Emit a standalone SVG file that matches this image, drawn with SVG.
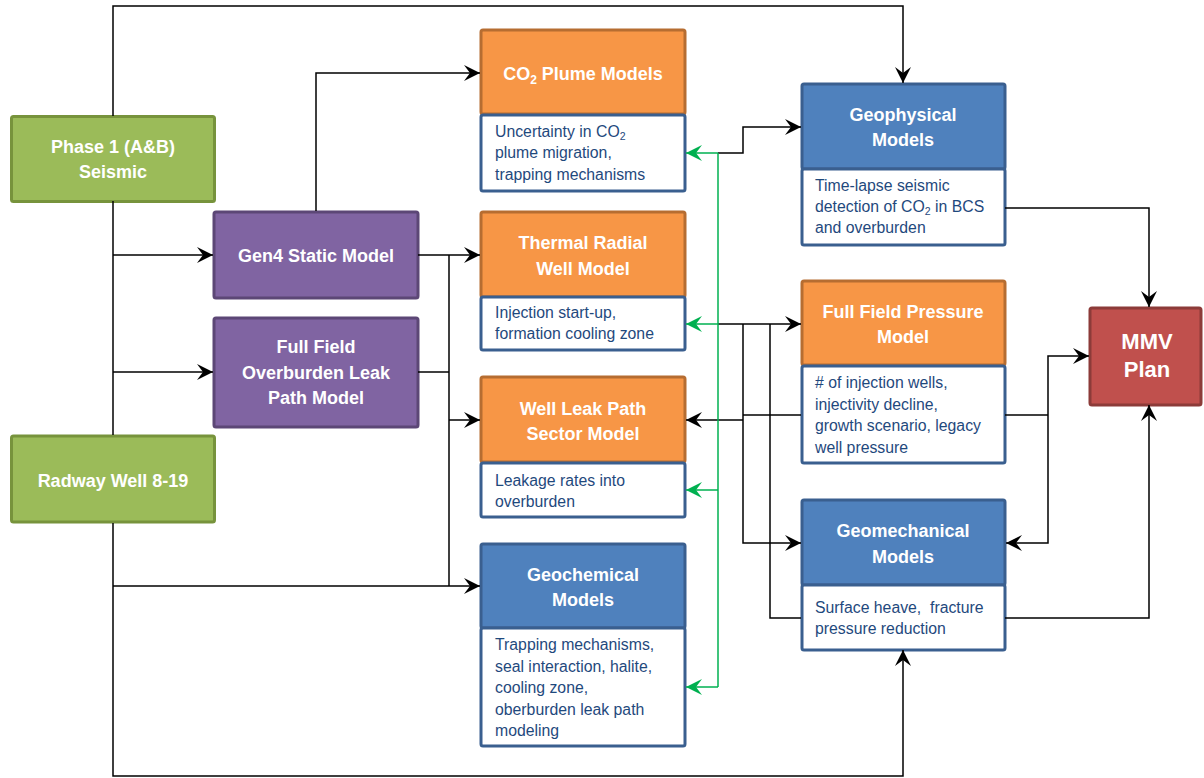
<svg xmlns="http://www.w3.org/2000/svg" width="1204" height="778" viewBox="0 0 1204 778">
<style>
text{font-family:"Liberation Sans",Arial,sans-serif}
.t{font-size:18px;font-weight:bold;fill:#fff;text-anchor:middle}
.b{font-size:15.8px;fill:#1F497D}
.g{fill:#9BBB59;stroke:#77933C;stroke-width:3}
.p{fill:#8064A2;stroke:#5C4776;stroke-width:3}
.o{fill:#F79646;stroke:#B66D31;stroke-width:3}
.bl{fill:#4F81BD;stroke:#3A5F8F;stroke-width:3}
.w{fill:#fff;stroke:#3A5F8F;stroke-width:3}
.r{fill:#C0504D;stroke:#8C3B39;stroke-width:3}
.c{fill:none;stroke:#000;stroke-width:1.5}
.cg{fill:none;stroke:#00B050;stroke-width:1.5}
.a{marker-end:url(#ah)}
.ag{marker-end:url(#ahg)}
</style>
<defs>
<marker id="ah" viewBox="-17 -9 18 18" refX="0" refY="0" markerWidth="18" markerHeight="18" markerUnits="userSpaceOnUse" orient="auto"><path d="M0,0 L-16,-8 L-10,0 L-16,8 Z" fill="#000"/></marker>
<marker id="ahg" viewBox="-17 -9 18 18" refX="0" refY="0" markerWidth="18" markerHeight="18" markerUnits="userSpaceOnUse" orient="auto"><path d="M0,0 L-16,-8 L-10,0 L-16,8 Z" fill="#00B050"/></marker>
</defs>
<rect width="1204" height="778" fill="#fff"/>

<g id="phase1"><rect class="g" x="11.5" y="116.5" width="203" height="85" rx="2"/><text class="t" x="113" y="153">Phase 1 (A&amp;B)</text><text class="t" x="113" y="178">Seismic</text></g>
<g id="radway"><rect class="g" x="11.5" y="436" width="203" height="86" rx="2"/><text class="t" x="113" y="487">Radway Well 8-19</text></g>
<g id="gen4"><rect class="p" x="214" y="212" width="204" height="86" rx="2"/><text class="t" x="316" y="262">Gen4 Static Model</text></g>
<g id="ffoverburden"><rect class="p" x="214" y="318" width="204" height="109" rx="2"/><text class="t" x="316" y="353">Full Field</text><text class="t" x="316" y="379">Overburden Leak</text><text class="t" x="316" y="404">Path Model</text></g>

<g id="co2plume"><rect class="o" x="481" y="30" width="204" height="84" rx="2"/><rect class="w" x="481" y="115" width="204" height="76" rx="2"/>
<text class="t" x="583" y="80">CO<tspan font-size="12" dy="4">2</tspan><tspan dy="-4"> Plume Models</tspan></text>
<text class="b" x="495" y="137">Uncertainty in CO<tspan font-size="10.5" dy="3">2</tspan></text><text class="b" x="495" y="158">plume migration,</text><text class="b" x="495" y="180">trapping mechanisms</text></g>

<g id="thermal"><rect class="o" x="481" y="212" width="204" height="85" rx="2"/><rect class="w" x="481" y="297" width="204" height="53" rx="2"/>
<text class="t" x="583" y="249">Thermal Radial</text><text class="t" x="583" y="275">Well Model</text>
<text class="b" x="495" y="318">Injection start-up,</text><text class="b" x="495" y="339">formation cooling zone</text></g>

<g id="wellleak"><rect class="o" x="481" y="377" width="204" height="85" rx="2"/><rect class="w" x="481" y="463" width="204" height="54" rx="2"/>
<text class="t" x="583" y="415">Well Leak Path</text><text class="t" x="583" y="440">Sector Model</text>
<text class="b" x="495" y="486">Leakage rates into</text><text class="b" x="495" y="507">overburden</text></g>

<g id="geochem"><rect class="bl" x="481" y="544" width="204" height="84" rx="2"/><rect class="w" x="481" y="628" width="204" height="118" rx="2"/>
<text class="t" x="583" y="581">Geochemical</text><text class="t" x="583" y="606">Models</text>
<text class="b" x="495" y="650">Trapping mechanisms,</text><text class="b" x="495" y="672">seal interaction, halite,</text><text class="b" x="495" y="693">cooling zone,</text><text class="b" x="495" y="715">oberburden leak path</text><text class="b" x="495" y="736">modeling</text></g>

<g id="geophys"><rect class="bl" x="802" y="84" width="203" height="85" rx="2"/><rect class="w" x="802" y="169" width="203" height="76" rx="2"/>
<text class="t" x="903" y="121">Geophysical</text><text class="t" x="903" y="146">Models</text>
<text class="b" x="815" y="191">Time-lapse seismic</text><text class="b" x="815" y="212">detection of CO<tspan font-size="10.5" dy="3">2</tspan><tspan dy="-3"> in BCS</tspan></text><text class="b" x="815" y="233">and overburden</text></g>

<g id="ffpressure"><rect class="o" x="802" y="281" width="203" height="84" rx="2"/><rect class="w" x="802" y="366" width="203" height="97" rx="2"/>
<text class="t" x="903" y="318">Full Field Pressure</text><text class="t" x="903" y="343">Model</text>
<text class="b" x="815" y="388"># of injection wells,</text><text class="b" x="815" y="410">injectivity decline,</text><text class="b" x="815" y="431">growth scenario, legacy</text><text class="b" x="815" y="453">well pressure</text></g>

<g id="geomech"><rect class="bl" x="802" y="500" width="203" height="85" rx="2"/><rect class="w" x="802" y="585" width="203" height="65" rx="2"/>
<text class="t" x="903" y="537">Geomechanical</text><text class="t" x="903" y="563">Models</text>
<text class="b" x="815" y="613">Surface heave,&#160; fracture</text><text class="b" x="815" y="634">pressure reduction</text></g>

<g id="mmv"><rect class="r" x="1090" y="308" width="111" height="97" rx="2"/><text class="t" x="1147" y="349" style="font-size:22px">MMV</text><text class="t" x="1147" y="377" style="font-size:22px">Plan</text></g>

<g id="connectors">
<path class="c a" d="M113,116 V6 H903 V83"/>
<path class="c" d="M113,201 V435"/>
<path class="c a" d="M113,255 H213"/>
<path class="c a" d="M113,372 H213"/>
<path class="c a" d="M113,523 V776 H903 V650"/>
<path class="c a" d="M113,586 H480"/>
<path class="c a" d="M316,211 V73 H480"/>
<path class="c a" d="M418,255 H480"/>
<path class="c" d="M418,372 H449"/>
<path class="c" d="M449,255 V586"/>
<path class="c a" d="M449,420 H480"/>
<path class="c a" d="M718,153 H743 V127 H801"/>
<path class="c a" d="M718,324 H801"/>
<path class="c a" d="M743,324 V543 H801"/>
<path class="c" d="M770,324 V618 H801"/>
<path class="c" d="M801,415 H743"/>
<path class="c a" d="M743,420 H686"/>
<path class="c a" d="M1005,208 H1149 V307"/>
<path class="c" d="M1005,415 H1048"/>
<path class="c a" d="M1048,415 V356 H1089"/>
<path class="c a" d="M1048,415 V543 H1006"/>
<path class="c a" d="M1005,618 H1149 V405"/>
<path class="cg" d="M718,153 V687"/>
<path class="cg ag" d="M718,153 H686"/>
<path class="cg ag" d="M718,324 H686"/>
<path class="cg ag" d="M718,490 H686"/>
<path class="cg ag" d="M718,687 H686"/>
</g>
</svg>
